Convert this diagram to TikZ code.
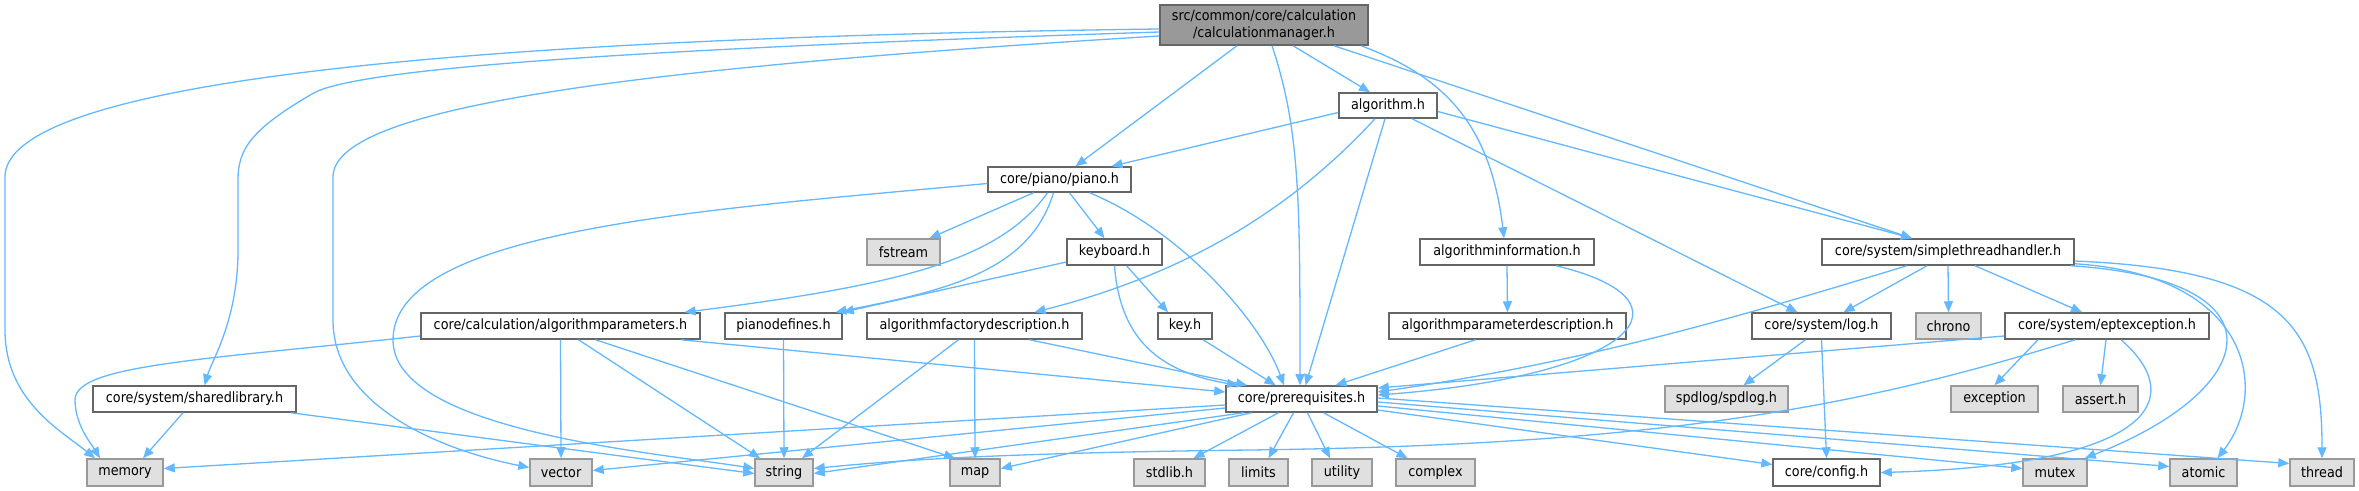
\documentclass[tikz,border=0pt]{standalone}
\usepackage{fontspec}
\setmainfont{DejaVu Sans Condensed}
\usetikzlibrary{arrows.meta,calc}
\definecolor{edgec}{HTML}{63B8FF}
\definecolor{bordc}{HTML}{666666}
\definecolor{extb}{HTML}{999999}
\definecolor{extf}{HTML}{E0E0E0}
\definecolor{rootf}{HTML}{999999}
\newcommand\mknode[7]{\node[#1, minimum width=#5*0.5pt, minimum height=#6*0.5pt] (#2) at (#3,#4) {#7};}
\begin{document}
\begin{tikzpicture}[x=0.5pt,y=-0.5pt,
  box/.style={draw=bordc, fill=white, line width=0.75pt, inner sep=0pt, font=\fontsize{7.1pt}{8.5pt}\selectfont, text=black},
  ext/.style={box, draw=extb, fill=extf},
  root/.style={box, draw=bordc, fill=rootf, align=center},
  e/.style={draw=edgec, line width=0.65pt, -{Triangle[length=5.5pt,width=4.5pt]}}]
\useasboundingbox[fill=white] (0,0) rectangle (2359,491);
% nodes
\mknode{root}{cm}{1264}{25}{208}{40}{src/common/core/calculation\\/calculationmanager.h}
\mknode{box}{alg}{1388}{105.5}{98}{25}{algorithm.h}
\mknode{box}{piano}{1059.5}{179.5}{143}{25}{core/piano/piano.h}
\mknode{ext}{fstream}{903.5}{252}{73}{26}{fstream}
\mknode{box}{keyboard}{1114.5}{252}{95}{26}{keyboard.h}
\mknode{box}{alginfo}{1507}{252}{174}{26}{algorithminformation.h}
\mknode{box}{sth}{1948}{252}{252}{26}{core/system/simplethreadhandler.h}
\mknode{box}{algparams}{560.5}{326}{279}{26}{core/calculation/algorithmparameters.h}
\mknode{box}{pianodef}{783.5}{326}{117}{26}{pianodefines.h}
\mknode{box}{afd}{974.5}{326}{215}{26}{algorithmfactorydescription.h}
\mknode{box}{key}{1185}{326}{54}{26}{key.h}
\mknode{box}{apd}{1507.5}{326}{237}{26}{algorithmparameterdescription.h}
\mknode{box}{log}{1821.5}{326}{139}{26}{core/system/log.h}
\mknode{ext}{chrono}{1948.5}{326}{65}{26}{chrono}
\mknode{box}{ept}{2107}{326}{204}{26}{core/system/eptexception.h}
\mknode{box}{shared}{194.5}{399}{203}{26}{core/system/sharedlibrary.h}
\mknode{box}{prereq}{1301.5}{399}{151}{26}{core/prerequisites.h}
\mknode{ext}{spdlog}{1726.5}{399}{123}{26}{spdlog/spdlog.h}
\mknode{ext}{exception}{1994.5}{399}{87}{26}{exception}
\mknode{ext}{assert}{2100.5}{399}{75}{26}{assert.h}
\mknode{ext}{memory}{125}{472.5}{76}{27}{memory}
\mknode{ext}{vector}{561}{472.5}{62}{27}{vector}
\mknode{ext}{string}{784}{472.5}{58}{27}{string}
\mknode{ext}{map}{975}{472.5}{50}{27}{map}
\mknode{ext}{stdlib}{1169.5}{472.5}{71}{27}{stdlib.h}
\mknode{ext}{limits}{1258.5}{472.5}{59}{27}{limits}
\mknode{ext}{utility}{1342}{472.5}{60}{27}{utility}
\mknode{ext}{complex}{1435.5}{472.5}{79}{27}{complex}
\mknode{box}{config}{1826.5}{472.5}{107}{27}{core/config.h}
\mknode{ext}{mutex}{2055}{472.5}{64}{27}{mutex}
\mknode{ext}{atomic}{2203.5}{472.5}{67}{27}{atomic}
\mknode{ext}{thread}{2322}{472.5}{64}{27}{thread}
% edges from calculationmanager.h
\draw[e] ($(cm.west)+(0,4)$) .. controls (300,40) and (5,100) .. (5,177) -- (5,330) .. controls (5,400) and (60,430) .. ($(memory.north)+(-30,0)$);
\draw[e] ($(cm.west)+(0,7)$) .. controls (600,50) and (350,70) .. (312,94) .. controls (250,130) and (238,150) .. (238,180) -- (238,250) .. controls (238,320) and (212,360) .. ($(shared.north)+(10,0)$);
\draw[e] ($(cm.west)+(0,11)$) .. controls (600,70) and (333,110) .. (333,177) -- (333,320) .. controls (333,410) and (450,452) .. ($(vector.west)+(0,-5)$);
\draw[e] ($(cm.south)+(-27,0)$) -- ($(piano.north)+(16,0)$);
\draw[e] ($(cm.south)+(8,0)$) .. controls (1300,130) and (1300,200) .. ($(prereq.north)+(-1.5,0)$);
\draw[e] ($(cm.south)+(29,0)$) -- ($(alg.north)+(-18,0)$);
\draw[e] ($(cm.south)+(97,0)$) .. controls (1440,75) and (1490,120) .. ($(alginfo.north)+(-3,0)$);
\draw[e] ($(cm.south)+(70,0)$) -- ($(sth.north)+(-36,0)$);
% algorithm.h
\draw[e] ($(alg.west)+(0,7)$) -- ($(piano.north)+(52,0)$);
\draw[e] ($(alg.south)+(-13,0)$) .. controls (1300,200) and (1200,270) .. ($(afd.north)+(60,0)$);
\draw[e] ($(alg.south)+(-3,0)$) -- ($(prereq.north)+(4,0)$);
\draw[e] ($(alg.south)+(24,0)$) -- ($(log.north)+(-24,0)$);
\draw[e] ($(alg.east)+(0,6)$) -- ($(sth.north)+(-36,0)$);
% piano.h
\draw[e] ($(piano.south)+(-26,0)$) -- ($(fstream.north)+(26,0)$);
\draw[e] ($(piano.south)+(-12,0)$) .. controls (1000,260) and (900,285) .. ($(algparams.north)+(124,0)$);
\draw[e] ($(piano.south)+(-6,0)$) .. controls (1030,270) and (950,290) .. ($(pianodef.north)+(52,0)$);
\draw[e] ($(piano.south)+(10,0)$) -- ($(keyboard.north)+(-10,0)$);
\draw[e] ($(piano.south)+(30,0)$) .. controls (1180,230) and (1260,320) .. ($(prereq.north)+(-17.5,0)$);
\draw[e] ($(piano.west)+(0,4)$) .. controls (700,210) and (393,230) .. (393,340) .. controls (393,430) and (650,452) .. ($(string.west)+(0,-4)$);
% keyboard.h
\draw[e] ($(keyboard.west)+(0,10)$) -- (pianodef.north east);
\draw[e] ($(keyboard.south)+(12,0)$) -- ($(key.north)+(-17,0)$);
\draw[e] (keyboard.south) .. controls (1120,340) and (1160,372) .. ($(prereq.north)+(-63.5,0)$);
% algorithminformation.h
\draw[e] (alginfo.south) -- (apd.north);
\draw[e] ($(alginfo.south)+(49,0)$) .. controls (1700,300) and (1640,375) .. ($(prereq.east)+(0,-4)$);
% simplethreadhandler.h
\draw[e] ($(sth.south)+(-41,0)$) .. controls (1760,310) and (1600,360) .. ($(prereq.east)+(0,-7)$);
\draw[e] ($(sth.south)+(-21,0)$) -- ($(log.north)+(22,0)$);
\draw[e] (sth.south) -- (chrono.north);
\draw[e] ($(sth.south)+(27,0)$) -- ($(ept.north)+(-25,0)$);
\draw[e] ($(sth.south east)+(-4,0)$) .. controls (2290,280) and (2260,390) .. ($(mutex.north east)+(-3,0)$);
\draw[e] ($(sth.south east)+(0,-2)$) .. controls (2250,275) and (2270,390) .. ($(atomic.north)+(14,0)$);
\draw[e] ($(sth.east)+(0,9)$) .. controls (2290,270) and (2322,330) .. (thread.north);
% algorithmparameters.h
\draw[e] ($(algparams.west)+(0,10)$) .. controls (200,360) and (75,365) .. (75,400) .. controls (75,425) and (92,445) .. ($(memory.north)+(-25,0)$);
\draw[e] (algparams.south) -- (vector.north);
\draw[e] ($(algparams.south)+(18,0)$) -- ($(string.north)+(-24,0)$);
\draw[e] ($(algparams.south)+(35,0)$) -- ($(map.north)+(-20,0)$);
\draw[e] ($(algparams.south east)+(-20,0)$) -- ($(prereq.west)+(0,-7)$);
% others
\draw[e] (pianodef.south) -- (string.north);
\draw[e] ($(afd.south)+(-16,0)$) -- ($(string.north)+(18,0)$);
\draw[e] (afd.south) -- (map.north);
\draw[e] ($(afd.south)+(55,0)$) -- ($(prereq.north)+(-54.5,0)$);
\draw[e] ($(key.south)+(18,0)$) -- ($(prereq.north)+(-26,0)$);
\draw[e] ($(apd.south)+(-32,0)$) -- ($(prereq.north)+(34,0)$);
\draw[e] ($(log.south)+(-16,0)$) -- ($(spdlog.north)+(17,0)$);
\draw[e] (log.south) -- (config.north);
% eptexception.h
\draw[e] ($(ept.west)+(0,10)$) -- ($(prereq.east)+(0,-11)$);
\draw[e] ($(ept.south)+(-69,0)$) -- (exception.north);
\draw[e] ($(ept.south)+(-1,0)$) -- (assert.north);
\draw[e] ($(ept.south)+(14,0)$) .. controls (2190,400) and (2150,465) .. (config.east);
\draw[e] ($(ept.south)+(-32,0)$) .. controls (1850,410) and (1650,445) .. (1250,450) .. controls (1000,453) and (900,460) .. ($(string.east)+(0,-4)$);
% sharedlibrary.h
\draw[e] ($(shared.south)+(-11.5,0)$) -- ($(memory.north)+(18,0)$);
\draw[e] ($(shared.south east)+(-6,0)$) -- ($(string.west)+(0,1)$);
% prerequisites.h
\draw[e] ($(prereq.west)+(0,6)$) -- ($(memory.east)+(0,-4)$);
\draw[e] ($(prereq.west)+(0,9)$) -- ($(vector.east)+(0,-2)$);
\draw[e] ($(prereq.south)+(-58,0)$) -- ($(string.east)+(0,1)$);
\draw[e] ($(prereq.south)+(-50,0)$) -- ($(map.east)+(0,-4)$);
\draw[e] ($(prereq.south)+(-23,0)$) -- ($(stdlib.north)+(24,0)$);
\draw[e] ($(prereq.south)+(-8,0)$) -- ($(limits.north)+(10,0)$);
\draw[e] ($(prereq.south)+(6,0)$) -- ($(utility.north)+(-12,0)$);
\draw[e] ($(prereq.south)+(22,0)$) -- ($(complex.north)+(-28,0)$);
\draw[e] ($(prereq.east)+(0,11)$) -- ($(config.west)+(0,-8)$);
\draw[e] ($(prereq.east)+(0,7)$) -- ($(mutex.west)+(0,-4)$);
\draw[e] ($(prereq.east)+(0,3)$) -- ($(atomic.west)+(0,-6)$);
\draw[e] ($(prereq.east)+(0,-1)$) -- ($(thread.west)+(0,-9)$);
\end{tikzpicture}
\end{document}
